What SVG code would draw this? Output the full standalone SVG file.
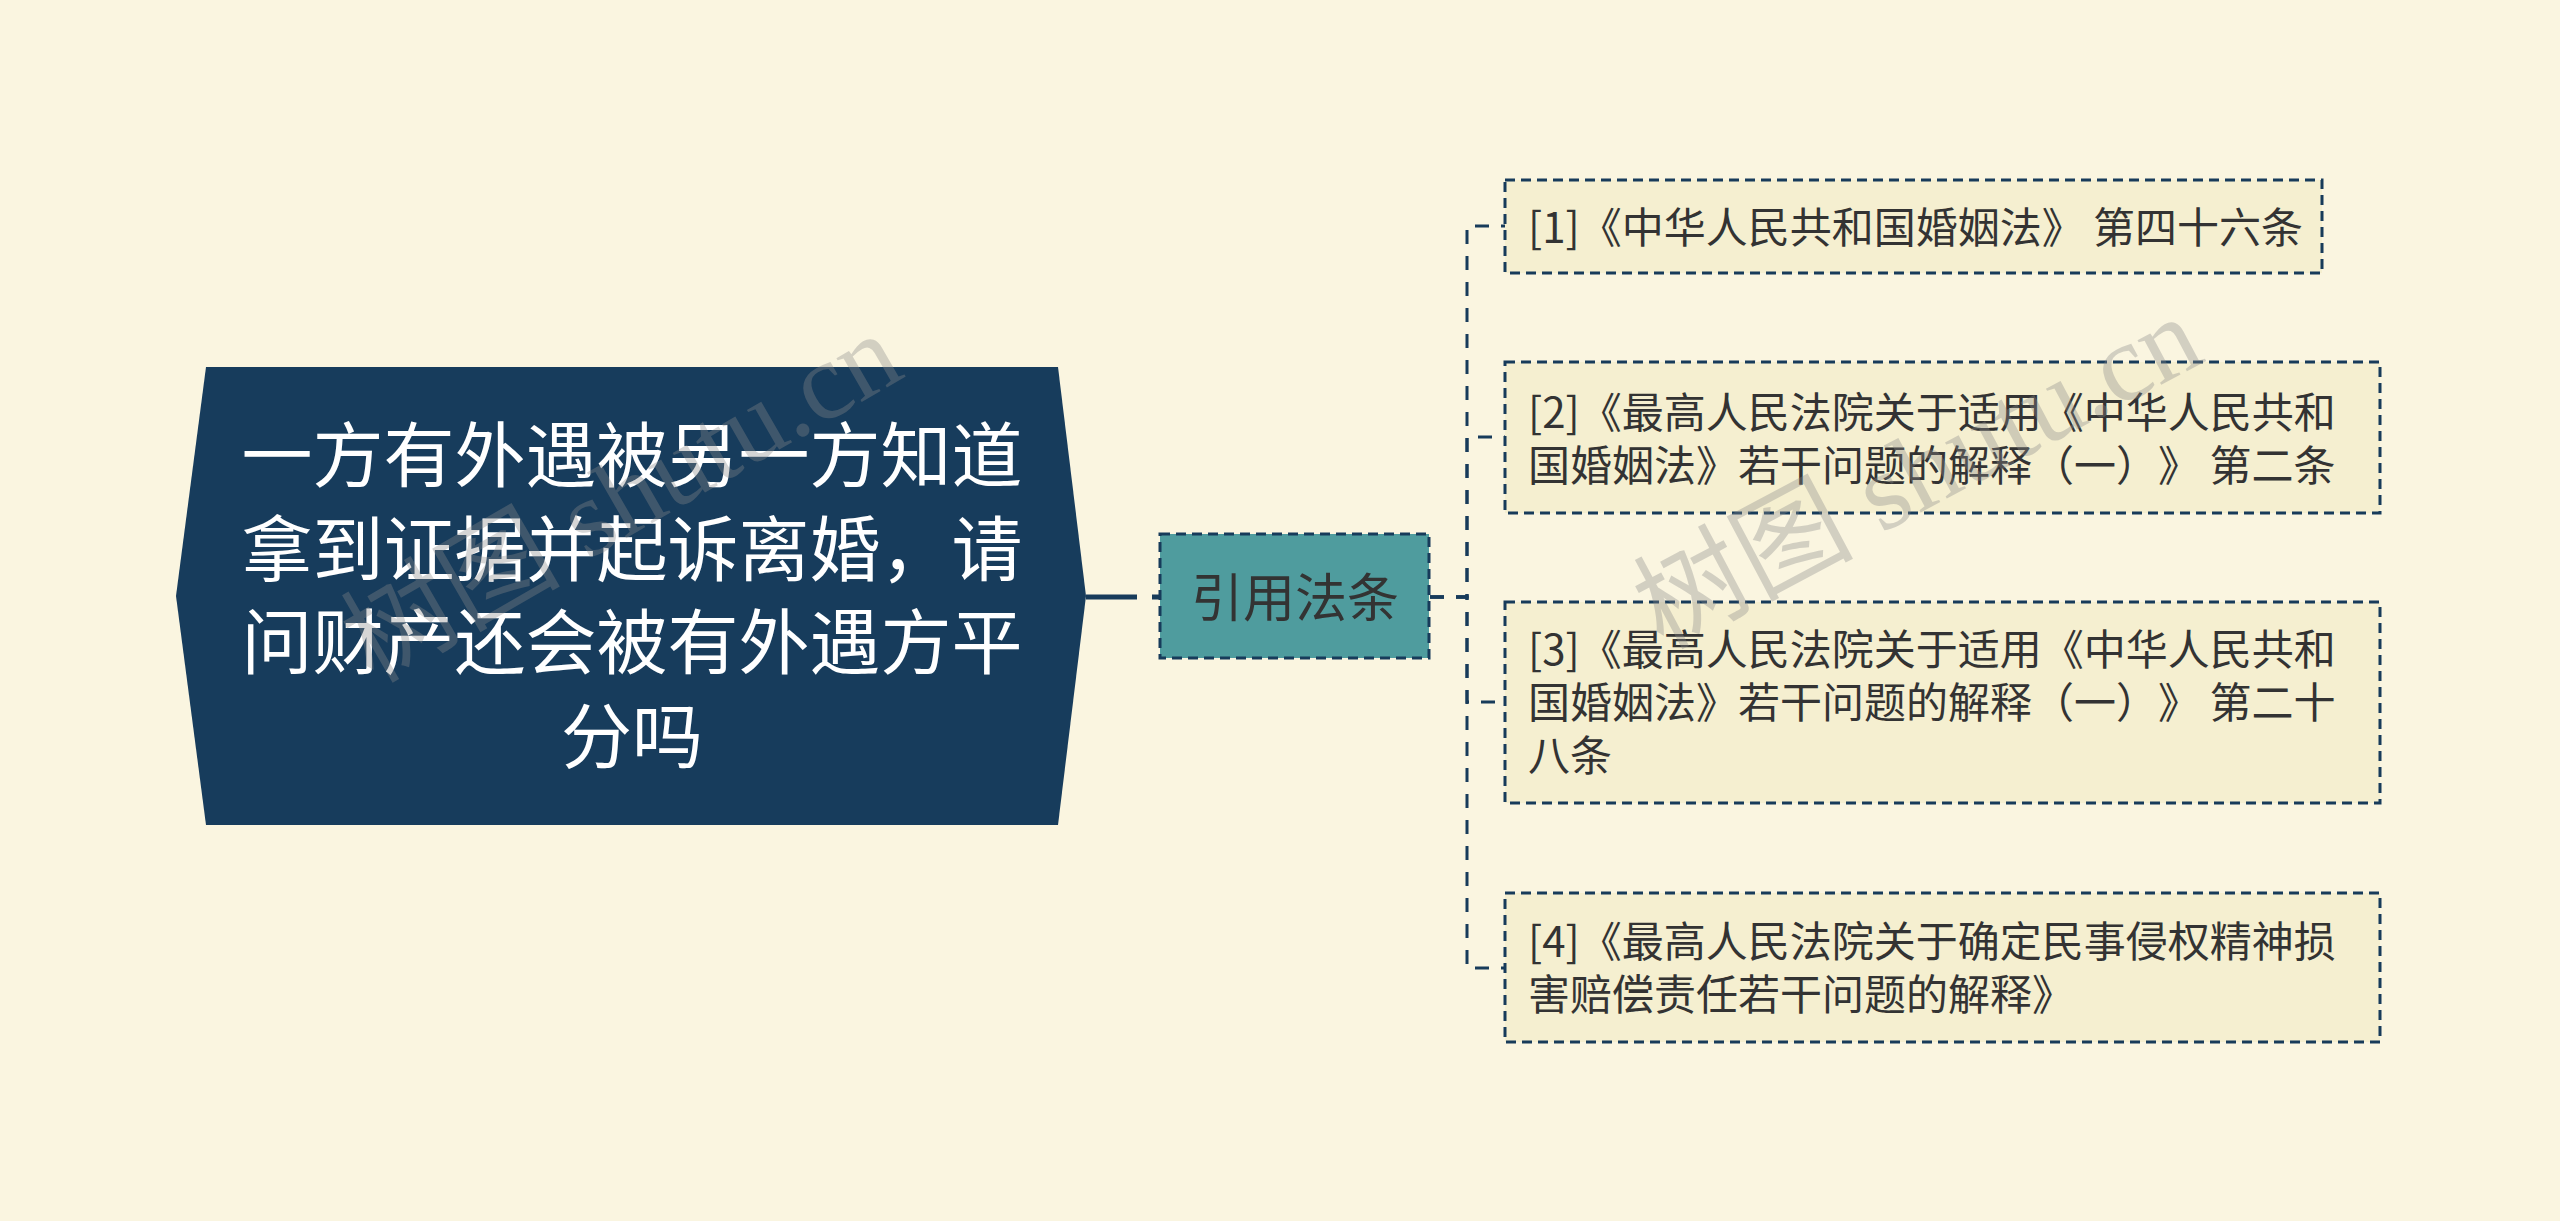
<svg xmlns="http://www.w3.org/2000/svg" width="2560" height="1221" viewBox="0 0 2560 1221">
<style>
text{text-spacing-trim:space-all}
.bg{fill:#faf5e0}
.root{fill:#173c5c}
.roottext{fill:#ffffff;font-family:"Noto Sans CJK SC","Noto Sans",sans-serif;font-size:71px;text-anchor:middle}
.sub{fill:#4f9c9e;stroke:#173b5a;stroke-width:3;stroke-dasharray:10 6}
.subtext{fill:#333333;font-family:"Noto Sans CJK SC","Noto Sans",sans-serif;font-size:52px;text-anchor:middle}
.leaf{fill:#f5efd0;stroke:#173b5a;stroke-width:3;stroke-dasharray:10 6}
.leaftext{fill:#333333;font-family:"Noto Sans CJK SC","Noto Sans",sans-serif;font-size:42px}
.conn{fill:none;stroke:#173b5a;stroke-width:3;stroke-dasharray:14 12}
.wm{fill:#8a8a8a;opacity:0.35;font-family:"Liberation Serif","Noto Sans CJK SC",serif;font-size:110px;text-anchor:middle}
</style>
<rect class="bg" x="0" y="0" width="2560" height="1221"/>
<g id="connectors">
<line x1="1086" y1="597" x2="1160" y2="597" stroke="#173b5a" stroke-width="5" stroke-dasharray="51 15 8"/>
<path class="conn" d="M1430 597 H1467 V226 H1505"/>
<path class="conn" d="M1430 597 H1467 V437 H1505"/>
<path class="conn" d="M1430 597 H1467 V702 H1505"/>
<path class="conn" d="M1430 597 H1467 V968 H1505"/>
</g>
<g id="root">
<polygon class="root" points="206,367 1058,367 1086,596 1058,825 206,825 176,596"/>
<text class="roottext" x="632" y="481">一方有外遇被另一方知道</text>
<text class="roottext" x="632" y="575">拿到证据并起诉离婚，请</text>
<text class="roottext" x="632" y="668">问财产还会被有外遇方平</text>
<text class="roottext" x="632" y="762">分吗</text>
</g>
<g id="sub">
<rect class="sub" x="1160" y="534" width="269" height="124"/>
<text class="subtext" x="1295" y="617">引用法条</text>
</g>
<g id="leaf1">
<rect class="leaf" x="1505" y="180" width="817" height="93"/>
<text class="leaftext" x="1528" y="243">[1]《中华人民共和国婚姻法》 第四十六条</text>
</g>
<g id="leaf2">
<rect class="leaf" x="1505" y="362" width="875" height="151"/>
<text class="leaftext" x="1528" y="428">[2]《最高人民法院关于适用《中华人民共和</text>
<text class="leaftext" x="1528" y="481">国婚姻法》若干问题的解释（一）》 第二条</text>
</g>
<g id="leaf3">
<rect class="leaf" x="1505" y="602" width="875" height="201"/>
<text class="leaftext" x="1528" y="665">[3]《最高人民法院关于适用《中华人民共和</text>
<text class="leaftext" x="1528" y="718">国婚姻法》若干问题的解释（一）》 第二十</text>
<text class="leaftext" x="1528" y="771">八条</text>
</g>
<g id="leaf4">
<rect class="leaf" x="1505" y="893" width="875" height="149"/>
<text class="leaftext" x="1528" y="957">[4]《最高人民法院关于确定民事侵权精神损</text>
<text class="leaftext" x="1528" y="1010">害赔偿责任若干问题的解释》</text>
</g>
<g id="watermarks">
<text class="wm" transform="translate(640,530) rotate(-30)">树图 shutu.cn</text>
<text class="wm" transform="translate(1935,505) rotate(-28)">树图 shutu.cn</text>
</g>
</svg>
